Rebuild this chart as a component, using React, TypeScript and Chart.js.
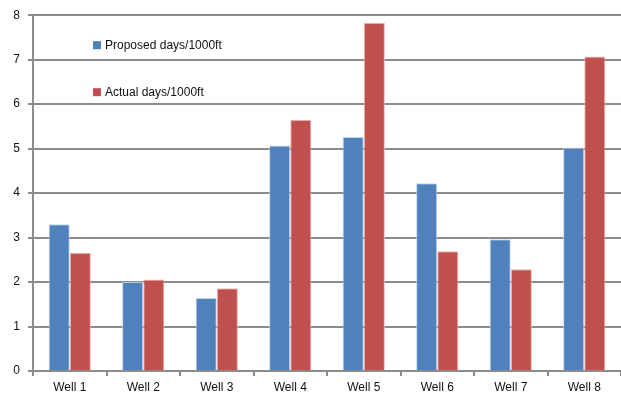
import React, { useEffect, useRef } from "react";
import { Chart, registerables } from "chart.js";

Chart.register(...registerables);

const categories = ["Well 1", "Well 2", "Well 3", "Well 4", "Well 5", "Well 6", "Well 7", "Well 8"];
const proposed = [3.3, 2.0, 1.64, 5.07, 5.26, 4.22, 2.96, 5.02];
const actual = [2.66, 2.06, 1.86, 5.65, 7.83, 2.69, 2.29, 7.07];
const seriesLabels = ["Proposed days/1000ft", "Actual days/1000ft"];
const yTicks = [0, 1, 2, 3, 4, 5, 6, 7, 8];

const FONT = "'Liberation Sans', Arial, sans-serif";

const legendPlugin = {
  id: "insideLegend",
  afterDraw(chart: any) {
    const { ctx, chartArea } = chart;
    ctx.save();
    ctx.font = `12px ${FONT}`;
    ctx.textBaseline = "middle";
    ctx.textAlign = "left";
    chart.data.datasets.forEach((ds: any, i: number) => {
      const x = chartArea.left + 60;
      const y = chartArea.top + 30 + i * 47;
      ctx.fillStyle = ds.backgroundColor;
      ctx.fillRect(x, y - 4, 8, 8);
      ctx.fillStyle = "#111";
      ctx.fillText(ds.label, x + 12, y);
    });
    ctx.restore();
  },
};

export default function App() {
  const ref = useRef<HTMLCanvasElement>(null);
  useEffect(() => {
    document.body.style.margin = "0";
    const chart = new Chart(ref.current!, {
      type: "bar",
      data: {
        labels: categories,
        datasets: [
          {
            label: seriesLabels[0],
            data: proposed,
            backgroundColor: "#4f81bd",
            borderColor: "rgba(190,210,235,0.9)",
            borderWidth: 1,
            categoryPercentage: 0.575,
            barPercentage: 1,
          },
          {
            label: seriesLabels[1],
            data: actual,
            backgroundColor: "#c0504d",
            borderColor: "rgba(235,180,180,0.9)",
            borderWidth: 1,
            categoryPercentage: 0.575,
            barPercentage: 1,
          },
        ],
      },
      options: {
        responsive: false,
        animation: false,
        layout: { padding: { top: 14, right: 0, left: 0, bottom: 0 } },
        plugins: {
          legend: { display: false },
          tooltip: { enabled: false },
        },
        scales: {
          x: {
            grid: {
              display: true,
              drawOnChartArea: false,
              drawTicks: true,
              tickLength: 5,
              color: "#8c8c8c",
              lineWidth: 2,
              offset: true,
            },
            border: { color: "#8c8c8c", width: 2 },
            ticks: { color: "#111", font: { family: FONT, size: 12 }, padding: 4, maxRotation: 0 },
            afterFit(scale: any) {
              scale.height = 29;
            },
          },
          y: {
            min: 0,
            max: 8,
            afterBuildTicks(scale: any) {
              scale.ticks = yTicks.map((v) => ({ value: v }));
            },
            grid: {
              color: "#8c8c8c",
              lineWidth: 2,
              tickLength: 5,
            },
            border: { color: "#8c8c8c", width: 2 },
            ticks: { color: "#111", font: { family: FONT, size: 12 }, padding: 8 },
            afterFit(scale: any) {
              scale.width = 33;
            },
          },
        },
      },
      plugins: [legendPlugin],
    });
    return () => chart.destroy();
  }, []);
  return <canvas ref={ref} width={621} height={400} style={{ display: "block" }} />;
}
